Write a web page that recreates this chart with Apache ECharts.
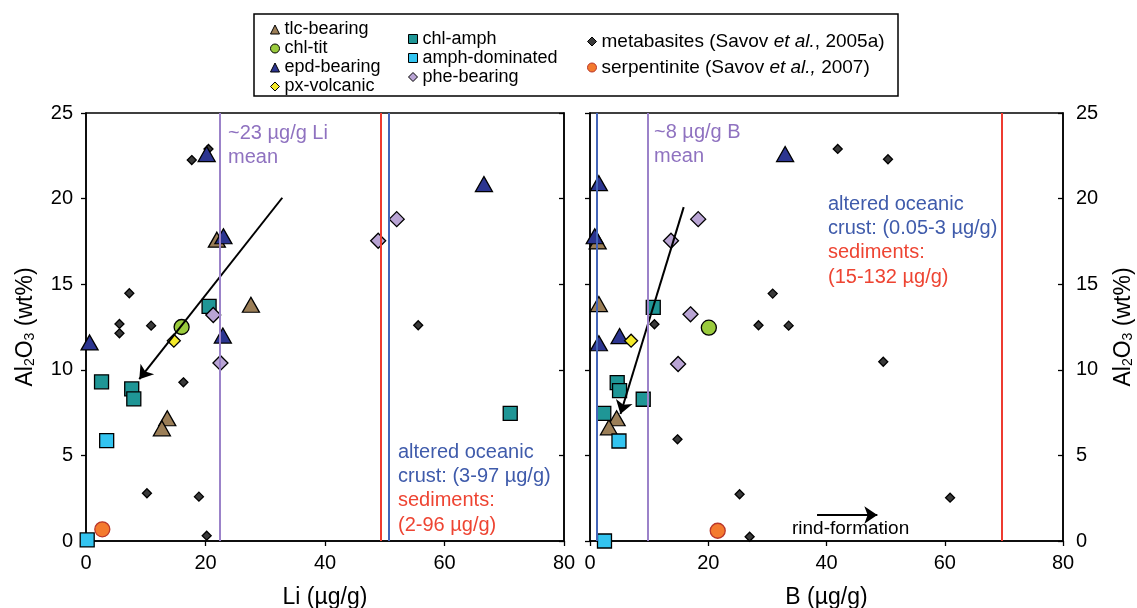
<!DOCTYPE html>
<html>
<head>
<meta charset="utf-8">
<script src="https://cdn.jsdelivr.net/npm/echarts@6/dist/echarts.min.js"></script>
<style>
  html, body { margin: 0; padding: 0; background: #fff; }
  #chart { width: 1137px; height: 608px; }
</style>
</head>
<body>
<div id="chart"></div>
<script>
// ---- Li (µg/g) vs Al2O3 (wt%) ----
const tlcLi      = [[21.9, 17.6], [27.6, 13.8], [13.6, 7.17], [12.7, 6.58]];
const chlTitLi   = [[16.0, 12.5]];
const epdLi      = [[20.2, 22.6], [23.0, 17.8], [22.9, 12.0], [0.6, 11.6], [66.6, 20.85]];
const pxLi       = [[14.7, 11.7]];
const chlAmphLi  = [[20.6, 13.7], [2.6, 9.3], [7.65, 8.88], [8.0, 8.3], [71.0, 7.46]];
const amphDomLi  = [[3.46, 5.86], [0.2, 0.06]];
const pheLi      = [[21.3, 13.2], [22.5, 10.4], [52.0, 18.8], [48.9, 17.54]];
const metaLi     = [[20.5, 22.9], [17.7, 22.25], [7.25, 14.47], [5.6, 12.68], [5.6, 12.13], [10.9, 12.58],
                    [16.3, 9.27], [10.2, 2.79], [18.9, 2.59], [20.2, 0.31], [55.6, 12.6]];
const serpLi     = [[2.73, 0.68]];

// ---- B (µg/g) vs Al2O3 (wt%) ----
const tlcB       = [[1.3, 17.5], [1.5, 13.84], [4.5, 7.17], [3.2, 6.64]];
const chlTitB    = [[20.1, 12.46]];
const epdB       = [[1.5, 20.9], [0.8, 17.8], [33.0, 22.6], [5.0, 11.97], [1.5, 11.55]];
const pxB        = [[6.95, 11.7]];
const chlAmphB   = [[10.7, 13.65], [4.6, 9.25], [5.0, 8.78], [9.0, 8.28], [2.33, 7.46]];
const amphDomB   = [[4.9, 5.84], [2.45, 0.0]];
const pheB       = [[18.3, 18.8], [13.7, 17.54], [17.0, 13.24], [14.9, 10.34]];
const metaB      = [[41.9, 22.9], [50.4, 22.3], [30.9, 14.45], [10.9, 12.66], [28.5, 12.6], [33.6, 12.58],
                    [49.6, 10.47], [14.8, 5.94], [25.3, 2.73], [27.0, 0.25], [60.9, 2.53]];
const serpB      = [[21.6, 0.6]];

// reference concentrations drawn as vertical lines
const liMean = 22.4, liSed = 49.4, liAoc = 50.6;
const bAoc = 1.2, bMean = 9.8, bSed = 69.7;

// trend arrows [from, to]
const liTrend   = [[32.85, 20.05], [8.92, 9.45]];
const bTrend    = [[15.85, 19.5], [5.15, 7.42]];
const rindArrow = [[38.4, 1.52], [48.6, 1.52]];

// axis ticks
const xMin = 0, xMax = 80, xStep = 20;
const yMin = 0, yMax = 25, yStep = 5;

const FONT = '"Liberation Sans", Arial, Helvetica, sans-serif';
const PURPLE = '#9b82c9', RED = '#ee3b30', BLUE = '#4465b8';
const PURPLE_TXT = '#8f72c0', BLUE_TXT = '#3f5bab', RED_TXT = '#ee4432';

const groups = [
  { name: 'tlc-bearing',    symbol: 'triangle', size: [17, 15], color: '#9b7e57', li: tlcLi,     b: tlcB },
  { name: 'chl-tit',        symbol: 'circle',   size: 15,       color: '#9acb3d', li: chlTitLi,  b: chlTitB },
  { name: 'epd-bearing',    symbol: 'triangle', size: [17, 15], color: '#2c3590', li: epdLi,     b: epdB },
  { name: 'px-volcanic',    symbol: 'diamond',  size: 13,       color: '#f4ea2a', li: pxLi,      b: pxB },
  { name: 'chl-amph',       symbol: 'rect',     size: 14,       color: '#1f9696', li: chlAmphLi, b: chlAmphB },
  { name: 'amph-dominated', symbol: 'rect',     size: 14,       color: '#33c4f0', li: amphDomLi, b: amphDomB },
  { name: 'phe-bearing',    symbol: 'diamond',  size: 15,       color: '#b9a4d4', li: pheLi,     b: pheB }
];
const metaStyle = { name: 'metabasites',  symbol: 'diamond', size: 9,  color: '#3a3a3a', border: '#000' };
const serpStyle = { name: 'serpentinite', symbol: 'circle',  size: 15, color: '#f47a2e', border: '#b9362b' };

function scatter(g, data, panel, z, border) {
  return {
    type: 'scatter', name: g.name, data: data,
    xAxisIndex: panel, yAxisIndex: panel === 0 ? 0 : 3,
    symbol: g.symbol, symbolSize: g.size, z: z,
    itemStyle: { color: g.color, borderColor: border || '#000', borderWidth: 1.3, opacity: 1 },
    emphasis: { disabled: true }
  };
}

function vline(panel, values, colors) {
  return {
    type: 'scatter', data: [], xAxisIndex: panel, yAxisIndex: panel === 0 ? 0 : 3, z: 1, silent: true,
    markLine: {
      silent: true, symbol: ['none', 'none'], label: { show: false }, animation: false,
      data: values.map((v, i) => ({ xAxis: v, lineStyle: { color: colors[i], width: 2, type: 'solid' } }))
    }
  };
}

function arrow(panel, coords) {
  return {
    type: 'lines', coordinateSystem: 'cartesian2d', xAxisIndex: panel, yAxisIndex: panel === 0 ? 0 : 3,
    z: 3, silent: true, symbol: ['none', 'arrow'], symbolSize: 13,
    lineStyle: { color: '#000', width: 2, opacity: 1 },
    data: [{ coords: coords }]
  };
}

const series = [];
[0, 1].forEach(p => {
  series.push(vline(p, p === 0 ? [liMean, liSed, liAoc] : [bAoc, bMean, bSed],
                       p === 0 ? [PURPLE, RED, BLUE] : [BLUE, PURPLE, RED]));
  series.push(scatter(metaStyle, p === 0 ? metaLi : metaB, p, 2));
  series.push(scatter(serpStyle, p === 0 ? serpLi : serpB, p, 2, serpStyle.border));
  groups.forEach(g => series.push(scatter(g, p === 0 ? g.li : g.b, p, 2)));
  series.push(arrow(p, p === 0 ? liTrend : bTrend));
});
series.push(arrow(1, rindArrow));

const axisLine = { show: true, lineStyle: { color: '#000', width: 1.5 } };
const tick = (inside) => ({ show: true, inside: inside, length: 5, lineStyle: { color: '#000', width: 1.3 } });

function xAxis(i, name) {
  return {
    type: 'value', gridIndex: i, min: xMin, max: xMax, interval: xStep,
    name: name, nameLocation: 'middle', nameGap: 45,
    nameTextStyle: { fontSize: 23, color: '#000', fontFamily: FONT },
    axisLine: axisLine, axisTick: tick(false),
    axisLabel: { fontSize: 20, color: '#000', margin: 12, fontFamily: FONT },
    splitLine: { show: false }
  };
}

const al2o3 = 'Al{s|2}O{s|3} (wt%)';
const nameRich = {
  fontSize: 23, color: '#000', fontFamily: FONT,
  rich: { s: { fontSize: 14, fontFamily: FONT, color: '#000', verticalAlign: 'bottom', lineHeight: 8 } }
};

function yAxis(grid, pos, labels, inside, name) {
  const a = {
    type: 'value', gridIndex: grid, position: pos, min: yMin, max: yMax, interval: yStep,
    axisLine: axisLine, axisTick: tick(inside),
    axisLabel: { show: labels, fontSize: 20, color: '#000', margin: 13, fontFamily: FONT },
    splitLine: { show: false }
  };
  if (name) {
    a.name = al2o3; a.nameLocation = 'middle'; a.nameRotate = 90;
    a.nameGap = 49; a.nameTextStyle = nameRich;
  }
  return a;
}

function legendCol(left, top, gap, names, size, extra) {
  return Object.assign({
    orient: 'vertical', left: left, top: top, padding: 0, itemGap: gap,
    itemWidth: 9, itemHeight: 9, selectedMode: false,
    textStyle: { fontSize: size, lineHeight: 19, color: '#000', fontFamily: FONT,
                 rich: { i: { fontSize: size, lineHeight: 19, fontStyle: 'italic', color: '#000', fontFamily: FONT } } },
    data: names.map(n => ({
      name: n,
      itemStyle: { borderColor: n === 'serpentinite' ? serpStyle.border : '#000', borderWidth: 1 }
    }))
  }, extra || {});
}

function txt(x, y, s, color, size) {
  return { type: 'text', x: x, y: y, silent: true, z: 10,
           style: { text: s, fill: color, font: (size || 20) + 'px ' + FONT, align: 'left', verticalAlign: 'middle' } };
}

const panelGrid = (left, width) => ({
  left: left, top: 113, width: width, height: 428, outerBoundsMode: 'none', containLabel: false,
  show: true, borderColor: '#000', borderWidth: 1.5, backgroundColor: 'transparent'
});

const option = {
  animation: false,
  backgroundColor: '#fff',
  textStyle: { fontFamily: FONT },
  grid: [panelGrid(86, 478), panelGrid(590, 473)],
  xAxis: [xAxis(0, 'Li (µg/g)'), xAxis(1, 'B (µg/g)')],
  yAxis: [
    yAxis(0, 'left', true, false, true),
    yAxis(0, 'right', false, true, false),
    yAxis(1, 'left', false, false, false),
    yAxis(1, 'right', true, true, true)
  ],
  legend: [
    legendCol(270, 20, 0, ['tlc-bearing', 'chl-tit', 'epd-bearing', 'px-volcanic'], 18),
    legendCol(408, 29.5, 0, ['chl-amph', 'amph-dominated', 'phe-bearing'], 18),
    legendCol(587, 32, 7, ['metabasites', 'serpentinite'], 19, {
      formatter: n => n === 'metabasites' ? 'metabasites (Savov {i|et al.}, 2005a)' : 'serpentinite (Savov {i|et al.,} 2007)'
    })
  ],
  graphic: [
    { type: 'rect', shape: { x: 254, y: 14, width: 644, height: 82 }, silent: true,
      style: { fill: 'none', stroke: '#000', lineWidth: 1.5 } },
    txt(228, 133, '~23 µg/g Li', PURPLE_TXT),
    txt(228, 157, 'mean', PURPLE_TXT),
    txt(398, 452, 'altered oceanic', BLUE_TXT),
    txt(398, 476, 'crust: (3-97 µg/g)', BLUE_TXT),
    txt(398, 500, 'sediments:', RED_TXT),
    txt(398, 525, '(2-96 µg/g)', RED_TXT),
    txt(654, 132, '~8 µg/g B', PURPLE_TXT),
    txt(654, 156, 'mean', PURPLE_TXT),
    txt(828, 204, 'altered oceanic', BLUE_TXT),
    txt(828, 228, 'crust: (0.05-3 µg/g)', BLUE_TXT),
    txt(828, 252, 'sediments:', RED_TXT),
    txt(828, 277, '(15-132 µg/g)', RED_TXT),
    txt(792, 529, 'rind-formation', '#000', 19)
  ],
  series: series
};

const chart = echarts.init(document.getElementById('chart'), null, { renderer: 'canvas' });
chart.setOption(option);
</script>
</body>
</html>
